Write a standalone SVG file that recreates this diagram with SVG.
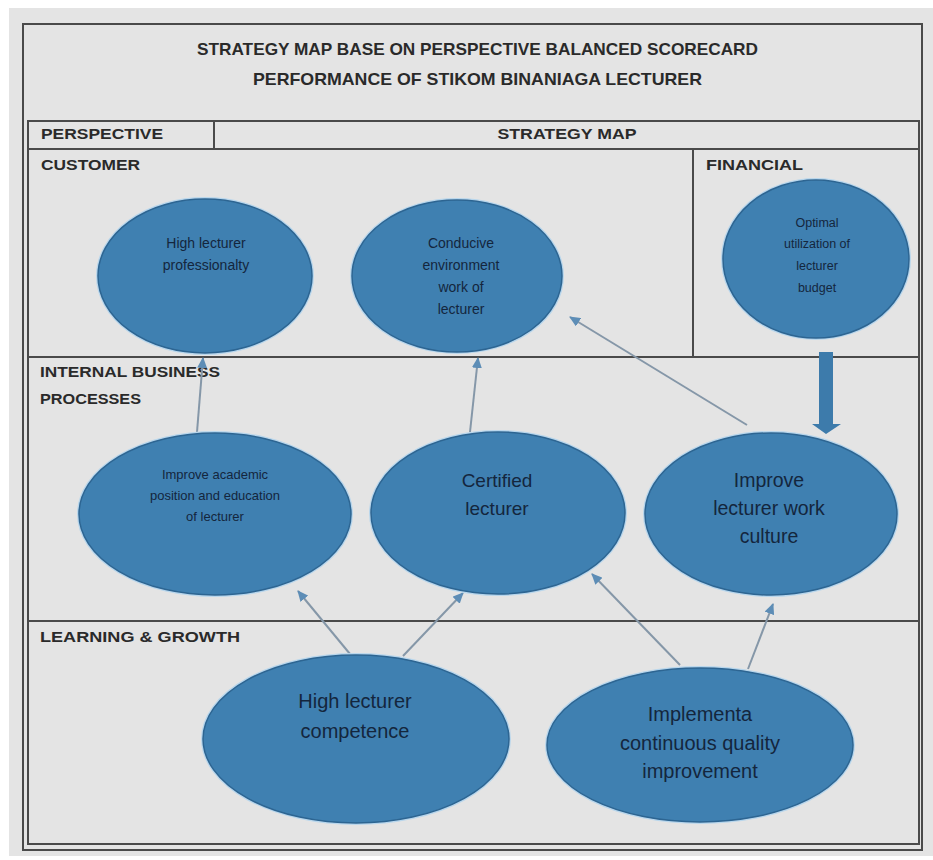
<svg xmlns="http://www.w3.org/2000/svg" width="933" height="860" viewBox="0 0 933 860">
<defs>
<style>
.frame{fill:none;stroke:#4a4a4a;stroke-width:2}
.title{font-family:"Liberation Sans",Arial,sans-serif;font-weight:bold;font-size:17px;fill:#2a2a2a}
.lab{font-family:"Liberation Sans",Arial,sans-serif;font-weight:bold;font-size:15px;fill:#2a2a2a}
.halo{fill:none;stroke:#b8d6ec;stroke-width:4}
.oval{fill:#3f80b1;stroke:#2d6592;stroke-width:1.5}
.t{font-family:"Liberation Sans",Arial,sans-serif;fill:#14263d;text-anchor:middle}
.conn{stroke:#8597a8;stroke-width:2;fill:none}
</style>
<marker id="ah" markerUnits="userSpaceOnUse" markerWidth="11" markerHeight="10" refX="10" refY="5" orient="auto">
<path d="M0,0 L11,5 L0,10 z" fill="#5d8db6"/>
</marker>
</defs>
<rect x="0" y="0" width="933" height="860" fill="#ffffff"/>
<rect x="9" y="8" width="924" height="848" fill="#e4e4e4"/>
<g id="frame">
<rect class="frame" x="23" y="24" width="899" height="826"/>
<rect class="frame" x="28" y="121" width="891" height="723"/>
<line class="frame" x1="28" y1="149" x2="919" y2="149"/>
<line class="frame" x1="214" y1="121" x2="214" y2="149"/>
<line class="frame" x1="693" y1="149" x2="693" y2="357"/>
<line class="frame" x1="28" y1="357" x2="919" y2="357"/>
<line class="frame" x1="28" y1="621" x2="919" y2="621"/>
</g>
<g id="titles">
<text class="title" x="477.5" y="55" text-anchor="middle" textLength="561" lengthAdjust="spacingAndGlyphs">STRATEGY MAP BASE ON PERSPECTIVE BALANCED SCORECARD</text>
<text class="title" x="477.5" y="85" text-anchor="middle" textLength="449" lengthAdjust="spacingAndGlyphs">PERFORMANCE OF STIKOM BINANIAGA LECTURER</text>
<text class="lab" x="41" y="139" textLength="122" lengthAdjust="spacingAndGlyphs">PERSPECTIVE</text>
<text class="lab" x="567" y="139" text-anchor="middle" textLength="139" lengthAdjust="spacingAndGlyphs">STRATEGY MAP</text>
<text class="lab" x="41" y="170" textLength="99" lengthAdjust="spacingAndGlyphs">CUSTOMER</text>
<text class="lab" x="706" y="170" textLength="97" lengthAdjust="spacingAndGlyphs">FINANCIAL</text>
<text class="lab" x="40" y="377" textLength="180" lengthAdjust="spacingAndGlyphs">INTERNAL BUSINESS</text>
<text class="lab" x="40" y="404" textLength="101" lengthAdjust="spacingAndGlyphs">PROCESSES</text>
<text class="lab" x="40" y="642" textLength="200" lengthAdjust="spacingAndGlyphs">LEARNING &amp; GROWTH</text>
</g>
<g id="connectors">
<line class="conn" x1="197" y1="432" x2="203" y2="358" marker-end="url(#ah)"/>
<line class="conn" x1="470" y1="432" x2="478" y2="358" marker-end="url(#ah)"/>
<line class="conn" x1="747" y1="425" x2="570" y2="317" marker-end="url(#ah)"/>
<line class="conn" x1="350" y1="654" x2="298" y2="591" marker-end="url(#ah)"/>
<line class="conn" x1="403" y1="656" x2="463" y2="593" marker-end="url(#ah)"/>
<line class="conn" x1="680" y1="665" x2="592" y2="574" marker-end="url(#ah)"/>
<line class="conn" x1="748" y1="669" x2="773" y2="604" marker-end="url(#ah)"/>
<polygon points="819,352 833,352 833,424 841,424 826,434 812,424 819,424" fill="#3d7bab"/>
</g>
<g id="node-professionalty">
<ellipse class="halo" cx="205" cy="276" rx="107" ry="77"/>
<ellipse class="oval" cx="205" cy="276" rx="107" ry="77"/>
<text class="t" x="206" y="248" font-size="14">High lecturer</text>
<text class="t" x="206" y="270" font-size="14">professionalty</text>
</g>
<g id="node-conducive">
<ellipse class="halo" cx="457" cy="276" rx="105" ry="76"/>
<ellipse class="oval" cx="457" cy="276" rx="105" ry="76"/>
<text class="t" x="461" y="248" font-size="14">Conducive</text>
<text class="t" x="461" y="270" font-size="14">environment</text>
<text class="t" x="461" y="292" font-size="14">work of</text>
<text class="t" x="461" y="314" font-size="14">lecturer</text>
</g>
<g id="node-budget">
<ellipse class="halo" cx="816" cy="259" rx="93" ry="79"/>
<ellipse class="oval" cx="816" cy="259" rx="93" ry="79"/>
<text class="t" x="817" y="227" font-size="12.5">Optimal</text>
<text class="t" x="817" y="248" font-size="12.5">utilization of</text>
<text class="t" x="817" y="270" font-size="12.5">lecturer</text>
<text class="t" x="817" y="292" font-size="12.5">budget</text>
</g>
<g id="node-academic">
<ellipse class="halo" cx="215" cy="514" rx="136" ry="81"/>
<ellipse class="oval" cx="215" cy="514" rx="136" ry="81"/>
<text class="t" x="215" y="479" font-size="13">Improve academic</text>
<text class="t" x="215" y="500" font-size="13">position and education</text>
<text class="t" x="215" y="521" font-size="13">of lecturer</text>
</g>
<g id="node-certified">
<ellipse class="halo" cx="498" cy="513" rx="127" ry="81"/>
<ellipse class="oval" cx="498" cy="513" rx="127" ry="81"/>
<text class="t" x="497" y="487" font-size="19">Certified</text>
<text class="t" x="497" y="515" font-size="19">lecturer</text>
</g>
<g id="node-culture">
<ellipse class="halo" cx="771" cy="514" rx="126" ry="81"/>
<ellipse class="oval" cx="771" cy="514" rx="126" ry="81"/>
<text class="t" x="769" y="487" font-size="19.5">Improve</text>
<text class="t" x="769" y="515" font-size="19.5">lecturer work</text>
<text class="t" x="769" y="543" font-size="19.5">culture</text>
</g>
<g id="node-competence">
<ellipse class="halo" cx="356" cy="739" rx="153" ry="84"/>
<ellipse class="oval" cx="356" cy="739" rx="153" ry="84"/>
<text class="t" x="355" y="708" font-size="20">High lecturer</text>
<text class="t" x="355" y="738" font-size="20">competence</text>
</g>
<g id="node-quality">
<ellipse class="halo" cx="700" cy="745" rx="153" ry="77"/>
<ellipse class="oval" cx="700" cy="745" rx="153" ry="77"/>
<text class="t" x="700" y="721" font-size="20">Implementa</text>
<text class="t" x="700" y="750" font-size="20">continuous quality</text>
<text class="t" x="700" y="778" font-size="20">improvement</text>
</g>
</svg>
